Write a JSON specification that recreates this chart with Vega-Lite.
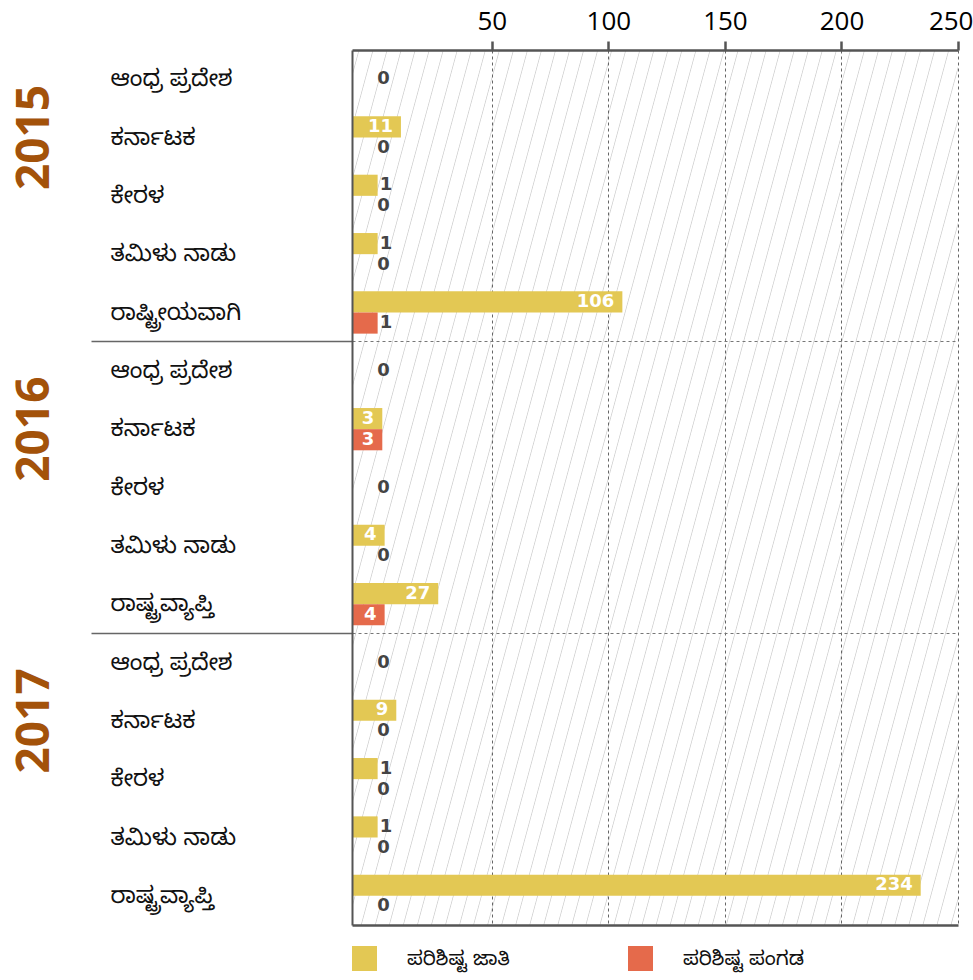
{
  "$schema": "https://vega.github.io/schema/vega-lite/v6.json",
  "width": 606,
  "height": 875,
  "autosize": "none",
  "padding": {"left": 352, "top": 50, "right": 15, "bottom": 55},
  "background": "white",
  "view": {
    "stroke": null,
    "fill": {
      "gradient": "linear", "x1": 0, "y1": 0, "x2": 1.2065, "y2": 0.4709,
      "stops": [
        {"offset": 0, "color": "#ffffff"},
        {"offset": 0.00733, "color": "#ffffff"}, {"offset": 0.00833, "color": "#d4d4d4"}, {"offset": 0.00933, "color": "#ffffff"},
        {"offset": 0.024, "color": "#ffffff"}, {"offset": 0.025, "color": "#d4d4d4"}, {"offset": 0.026, "color": "#ffffff"},
        {"offset": 0.04067, "color": "#ffffff"}, {"offset": 0.04167, "color": "#d4d4d4"}, {"offset": 0.04267, "color": "#ffffff"},
        {"offset": 0.05733, "color": "#ffffff"}, {"offset": 0.05833, "color": "#d4d4d4"}, {"offset": 0.05933, "color": "#ffffff"},
        {"offset": 0.074, "color": "#ffffff"}, {"offset": 0.075, "color": "#d4d4d4"}, {"offset": 0.076, "color": "#ffffff"},
        {"offset": 0.09067, "color": "#ffffff"}, {"offset": 0.09167, "color": "#d4d4d4"}, {"offset": 0.09267, "color": "#ffffff"},
        {"offset": 0.10733, "color": "#ffffff"}, {"offset": 0.10833, "color": "#d4d4d4"}, {"offset": 0.10933, "color": "#ffffff"},
        {"offset": 0.124, "color": "#ffffff"}, {"offset": 0.125, "color": "#d4d4d4"}, {"offset": 0.126, "color": "#ffffff"},
        {"offset": 0.14067, "color": "#ffffff"}, {"offset": 0.14167, "color": "#d4d4d4"}, {"offset": 0.14267, "color": "#ffffff"},
        {"offset": 0.15733, "color": "#ffffff"}, {"offset": 0.15833, "color": "#d4d4d4"}, {"offset": 0.15933, "color": "#ffffff"},
        {"offset": 0.174, "color": "#ffffff"}, {"offset": 0.175, "color": "#d4d4d4"}, {"offset": 0.176, "color": "#ffffff"},
        {"offset": 0.19067, "color": "#ffffff"}, {"offset": 0.19167, "color": "#d4d4d4"}, {"offset": 0.19267, "color": "#ffffff"},
        {"offset": 0.20733, "color": "#ffffff"}, {"offset": 0.20833, "color": "#d4d4d4"}, {"offset": 0.20933, "color": "#ffffff"},
        {"offset": 0.224, "color": "#ffffff"}, {"offset": 0.225, "color": "#d4d4d4"}, {"offset": 0.226, "color": "#ffffff"},
        {"offset": 0.24067, "color": "#ffffff"}, {"offset": 0.24167, "color": "#d4d4d4"}, {"offset": 0.24267, "color": "#ffffff"},
        {"offset": 0.25733, "color": "#ffffff"}, {"offset": 0.25833, "color": "#d4d4d4"}, {"offset": 0.25933, "color": "#ffffff"},
        {"offset": 0.274, "color": "#ffffff"}, {"offset": 0.275, "color": "#d4d4d4"}, {"offset": 0.276, "color": "#ffffff"},
        {"offset": 0.29067, "color": "#ffffff"}, {"offset": 0.29167, "color": "#d4d4d4"}, {"offset": 0.29267, "color": "#ffffff"},
        {"offset": 0.30733, "color": "#ffffff"}, {"offset": 0.30833, "color": "#d4d4d4"}, {"offset": 0.30933, "color": "#ffffff"},
        {"offset": 0.324, "color": "#ffffff"}, {"offset": 0.325, "color": "#d4d4d4"}, {"offset": 0.326, "color": "#ffffff"},
        {"offset": 0.34067, "color": "#ffffff"}, {"offset": 0.34167, "color": "#d4d4d4"}, {"offset": 0.34267, "color": "#ffffff"},
        {"offset": 0.35733, "color": "#ffffff"}, {"offset": 0.35833, "color": "#d4d4d4"}, {"offset": 0.35933, "color": "#ffffff"},
        {"offset": 0.374, "color": "#ffffff"}, {"offset": 0.375, "color": "#d4d4d4"}, {"offset": 0.376, "color": "#ffffff"},
        {"offset": 0.39067, "color": "#ffffff"}, {"offset": 0.39167, "color": "#d4d4d4"}, {"offset": 0.39267, "color": "#ffffff"},
        {"offset": 0.40733, "color": "#ffffff"}, {"offset": 0.40833, "color": "#d4d4d4"}, {"offset": 0.40933, "color": "#ffffff"},
        {"offset": 0.424, "color": "#ffffff"}, {"offset": 0.425, "color": "#d4d4d4"}, {"offset": 0.426, "color": "#ffffff"},
        {"offset": 0.44067, "color": "#ffffff"}, {"offset": 0.44167, "color": "#d4d4d4"}, {"offset": 0.44267, "color": "#ffffff"},
        {"offset": 0.45733, "color": "#ffffff"}, {"offset": 0.45833, "color": "#d4d4d4"}, {"offset": 0.45933, "color": "#ffffff"},
        {"offset": 0.474, "color": "#ffffff"}, {"offset": 0.475, "color": "#d4d4d4"}, {"offset": 0.476, "color": "#ffffff"},
        {"offset": 0.49067, "color": "#ffffff"}, {"offset": 0.49167, "color": "#d4d4d4"}, {"offset": 0.49267, "color": "#ffffff"},
        {"offset": 0.50733, "color": "#ffffff"}, {"offset": 0.50833, "color": "#d4d4d4"}, {"offset": 0.50933, "color": "#ffffff"},
        {"offset": 0.524, "color": "#ffffff"}, {"offset": 0.525, "color": "#d4d4d4"}, {"offset": 0.526, "color": "#ffffff"},
        {"offset": 0.54067, "color": "#ffffff"}, {"offset": 0.54167, "color": "#d4d4d4"}, {"offset": 0.54267, "color": "#ffffff"},
        {"offset": 0.55733, "color": "#ffffff"}, {"offset": 0.55833, "color": "#d4d4d4"}, {"offset": 0.55933, "color": "#ffffff"},
        {"offset": 0.574, "color": "#ffffff"}, {"offset": 0.575, "color": "#d4d4d4"}, {"offset": 0.576, "color": "#ffffff"},
        {"offset": 0.59067, "color": "#ffffff"}, {"offset": 0.59167, "color": "#d4d4d4"}, {"offset": 0.59267, "color": "#ffffff"},
        {"offset": 0.60733, "color": "#ffffff"}, {"offset": 0.60833, "color": "#d4d4d4"}, {"offset": 0.60933, "color": "#ffffff"},
        {"offset": 0.624, "color": "#ffffff"}, {"offset": 0.625, "color": "#d4d4d4"}, {"offset": 0.626, "color": "#ffffff"},
        {"offset": 0.64067, "color": "#ffffff"}, {"offset": 0.64167, "color": "#d4d4d4"}, {"offset": 0.64267, "color": "#ffffff"},
        {"offset": 0.65733, "color": "#ffffff"}, {"offset": 0.65833, "color": "#d4d4d4"}, {"offset": 0.65933, "color": "#ffffff"},
        {"offset": 0.674, "color": "#ffffff"}, {"offset": 0.675, "color": "#d4d4d4"}, {"offset": 0.676, "color": "#ffffff"},
        {"offset": 0.69067, "color": "#ffffff"}, {"offset": 0.69167, "color": "#d4d4d4"}, {"offset": 0.69267, "color": "#ffffff"},
        {"offset": 0.70733, "color": "#ffffff"}, {"offset": 0.70833, "color": "#d4d4d4"}, {"offset": 0.70933, "color": "#ffffff"},
        {"offset": 0.724, "color": "#ffffff"}, {"offset": 0.725, "color": "#d4d4d4"}, {"offset": 0.726, "color": "#ffffff"},
        {"offset": 0.74067, "color": "#ffffff"}, {"offset": 0.74167, "color": "#d4d4d4"}, {"offset": 0.74267, "color": "#ffffff"},
        {"offset": 0.75733, "color": "#ffffff"}, {"offset": 0.75833, "color": "#d4d4d4"}, {"offset": 0.75933, "color": "#ffffff"},
        {"offset": 0.774, "color": "#ffffff"}, {"offset": 0.775, "color": "#d4d4d4"}, {"offset": 0.776, "color": "#ffffff"},
        {"offset": 0.79067, "color": "#ffffff"}, {"offset": 0.79167, "color": "#d4d4d4"}, {"offset": 0.79267, "color": "#ffffff"},
        {"offset": 0.80733, "color": "#ffffff"}, {"offset": 0.80833, "color": "#d4d4d4"}, {"offset": 0.80933, "color": "#ffffff"},
        {"offset": 0.824, "color": "#ffffff"}, {"offset": 0.825, "color": "#d4d4d4"}, {"offset": 0.826, "color": "#ffffff"},
        {"offset": 0.84067, "color": "#ffffff"}, {"offset": 0.84167, "color": "#d4d4d4"}, {"offset": 0.84267, "color": "#ffffff"},
        {"offset": 0.85733, "color": "#ffffff"}, {"offset": 0.85833, "color": "#d4d4d4"}, {"offset": 0.85933, "color": "#ffffff"},
        {"offset": 0.874, "color": "#ffffff"}, {"offset": 0.875, "color": "#d4d4d4"}, {"offset": 0.876, "color": "#ffffff"},
        {"offset": 0.89067, "color": "#ffffff"}, {"offset": 0.89167, "color": "#d4d4d4"}, {"offset": 0.89267, "color": "#ffffff"},
        {"offset": 0.90733, "color": "#ffffff"}, {"offset": 0.90833, "color": "#d4d4d4"}, {"offset": 0.90933, "color": "#ffffff"},
        {"offset": 0.924, "color": "#ffffff"}, {"offset": 0.925, "color": "#d4d4d4"}, {"offset": 0.926, "color": "#ffffff"},
        {"offset": 0.94067, "color": "#ffffff"}, {"offset": 0.94167, "color": "#d4d4d4"}, {"offset": 0.94267, "color": "#ffffff"},
        {"offset": 0.95733, "color": "#ffffff"}, {"offset": 0.95833, "color": "#d4d4d4"}, {"offset": 0.95933, "color": "#ffffff"},
        {"offset": 0.974, "color": "#ffffff"}, {"offset": 0.975, "color": "#d4d4d4"}, {"offset": 0.976, "color": "#ffffff"},
        {"offset": 0.99067, "color": "#ffffff"}, {"offset": 0.99167, "color": "#d4d4d4"}, {"offset": 0.99267, "color": "#ffffff"},
        {"offset": 1, "color": "#ffffff"}
      ]
    }
  },
  "data": {
    "values": [
      {"key": "2015|ಆಂಧ್ರ ಪ್ರದೇಶ", "series": "ಪರಿಶಿಷ್ಟ ಜಾತಿ", "value": 0},
      {"key": "2015|ಆಂಧ್ರ ಪ್ರದೇಶ", "series": "ಪರಿಶಿಷ್ಟ ಪಂಗಡ", "value": 0},
      {"key": "2015|ಕರ್ನಾಟಕ", "series": "ಪರಿಶಿಷ್ಟ ಜಾತಿ", "value": 11},
      {"key": "2015|ಕರ್ನಾಟಕ", "series": "ಪರಿಶಿಷ್ಟ ಪಂಗಡ", "value": 0},
      {"key": "2015|ಕೇರಳ", "series": "ಪರಿಶಿಷ್ಟ ಜಾತಿ", "value": 1},
      {"key": "2015|ಕೇರಳ", "series": "ಪರಿಶಿಷ್ಟ ಪಂಗಡ", "value": 0},
      {"key": "2015|ತಮಿಳು ನಾಡು", "series": "ಪರಿಶಿಷ್ಟ ಜಾತಿ", "value": 1},
      {"key": "2015|ತಮಿಳು ನಾಡು", "series": "ಪರಿಶಿಷ್ಟ ಪಂಗಡ", "value": 0},
      {"key": "2015|ರಾಷ್ಟ್ರೀಯವಾಗಿ", "series": "ಪರಿಶಿಷ್ಟ ಜಾತಿ", "value": 106},
      {"key": "2015|ರಾಷ್ಟ್ರೀಯವಾಗಿ", "series": "ಪರಿಶಿಷ್ಟ ಪಂಗಡ", "value": 1},
      {"key": "2016|ಆಂಧ್ರ ಪ್ರದೇಶ", "series": "ಪರಿಶಿಷ್ಟ ಜಾತಿ", "value": 0},
      {"key": "2016|ಆಂಧ್ರ ಪ್ರದೇಶ", "series": "ಪರಿಶಿಷ್ಟ ಪಂಗಡ", "value": 0},
      {"key": "2016|ಕರ್ನಾಟಕ", "series": "ಪರಿಶಿಷ್ಟ ಜಾತಿ", "value": 3},
      {"key": "2016|ಕರ್ನಾಟಕ", "series": "ಪರಿಶಿಷ್ಟ ಪಂಗಡ", "value": 3},
      {"key": "2016|ಕೇರಳ", "series": "ಪರಿಶಿಷ್ಟ ಜಾತಿ", "value": 0},
      {"key": "2016|ಕೇರಳ", "series": "ಪರಿಶಿಷ್ಟ ಪಂಗಡ", "value": 0},
      {"key": "2016|ತಮಿಳು ನಾಡು", "series": "ಪರಿಶಿಷ್ಟ ಜಾತಿ", "value": 4},
      {"key": "2016|ತಮಿಳು ನಾಡು", "series": "ಪರಿಶಿಷ್ಟ ಪಂಗಡ", "value": 0},
      {"key": "2016|ರಾಷ್ಟ್ರವ್ಯಾಪ್ತಿ", "series": "ಪರಿಶಿಷ್ಟ ಜಾತಿ", "value": 27},
      {"key": "2016|ರಾಷ್ಟ್ರವ್ಯಾಪ್ತಿ", "series": "ಪರಿಶಿಷ್ಟ ಪಂಗಡ", "value": 4},
      {"key": "2017|ಆಂಧ್ರ ಪ್ರದೇಶ", "series": "ಪರಿಶಿಷ್ಟ ಜಾತಿ", "value": 0},
      {"key": "2017|ಆಂಧ್ರ ಪ್ರದೇಶ", "series": "ಪರಿಶಿಷ್ಟ ಪಂಗಡ", "value": 0},
      {"key": "2017|ಕರ್ನಾಟಕ", "series": "ಪರಿಶಿಷ್ಟ ಜಾತಿ", "value": 9},
      {"key": "2017|ಕರ್ನಾಟಕ", "series": "ಪರಿಶಿಷ್ಟ ಪಂಗಡ", "value": 0},
      {"key": "2017|ಕೇರಳ", "series": "ಪರಿಶಿಷ್ಟ ಜಾತಿ", "value": 1},
      {"key": "2017|ಕೇರಳ", "series": "ಪರಿಶಿಷ್ಟ ಪಂಗಡ", "value": 0},
      {"key": "2017|ತಮಿಳು ನಾಡು", "series": "ಪರಿಶಿಷ್ಟ ಜಾತಿ", "value": 1},
      {"key": "2017|ತಮಿಳು ನಾಡು", "series": "ಪರಿಶಿಷ್ಟ ಪಂಗಡ", "value": 0},
      {"key": "2017|ರಾಷ್ಟ್ರವ್ಯಾಪ್ತಿ", "series": "ಪರಿಶಿಷ್ಟ ಜಾತಿ", "value": 234},
      {"key": "2017|ರಾಷ್ಟ್ರವ್ಯಾಪ್ತಿ", "series": "ಪರಿಶಿಷ್ಟ ಪಂಗಡ", "value": 0}
    ]
  },
  "transform": [
    {"joinaggregate": [{"op": "sum", "field": "value", "as": "total"}], "groupby": ["key"]}
  ],
  "layer": [
    {
      "transform": [{"filter": "datum.value > 0"}],
      "mark": {"type": "bar"},
      "encoding": {
        "y": {
          "field": "key", "type": "nominal",
          "scale": {
            "domain": ["2015|ಆಂಧ್ರ ಪ್ರದೇಶ", "2015|ಕರ್ನಾಟಕ", "2015|ಕೇರಳ", "2015|ತಮಿಳು ನಾಡು", "2015|ರಾಷ್ಟ್ರೀಯವಾಗಿ",
                       "2016|ಆಂಧ್ರ ಪ್ರದೇಶ", "2016|ಕರ್ನಾಟಕ", "2016|ಕೇರಳ", "2016|ತಮಿಳು ನಾಡು", "2016|ರಾಷ್ಟ್ರವ್ಯಾಪ್ತಿ",
                       "2017|ಆಂಧ್ರ ಪ್ರದೇಶ", "2017|ಕರ್ನಾಟಕ", "2017|ಕೇರಳ", "2017|ತಮಿಳು ನಾಡು", "2017|ರಾಷ್ಟ್ರವ್ಯಾಪ್ತಿ"],
            "paddingInner": 0, "paddingOuter": 0
          },
          "axis": {
            "orient": "left", "title": null, "ticks": false, "grid": false,
            "domain": true, "domainColor": "#555555", "domainWidth": 2,
            "labelExpr": "split(datum.value, '|')[1]",
            "labelAlign": "left", "labelBaseline": "middle", "labelPadding": 242,
            "labelFontSize": 23, "labelColor": "#111111",
            "labelFont": "Noto Sans Kannada, Noto Sans, sans-serif", "labelLimit": 240, "zindex": 1
          }
        },
        "yOffset": {
          "field": "series", "type": "nominal",
          "scale": {"domain": ["ಪರಿಶಿಷ್ಟ ಜಾತಿ", "ಪರಿಶಿಷ್ಟ ಪಂಗಡ"], "paddingInner": 0, "paddingOuter": 0.38}
        },
        "x": {
          "field": "value", "type": "quantitative",
          "scale": {"domain": [-10, 250], "nice": false, "zero": false},
          "axis": {
            "orient": "top", "title": null, "values": [50, 100, 150, 200, 250],
            "domain": true, "domainColor": "#555555", "domainWidth": 2.5,
            "ticks": true, "tickSize": 9, "tickWidth": 2.5, "tickColor": "#555555",
            "labelFontSize": 26, "labelColor": "#000000", "labelPadding": 7, "labelFont": "Open Sans",
            "labelFlush": true, "labelFlushOffset": 15,
            "grid": true, "gridColor": "#666666", "gridDash": [3, 3], "gridWidth": 1
          }
        },
        "x2": {"datum": -10},
        "color": {
          "field": "series", "type": "nominal",
          "scale": {"domain": ["ಪರಿಶಿಷ್ಟ ಜಾತಿ", "ಪರಿಶಿಷ್ಟ ಪಂಗಡ"], "range": ["#E3C854", "#E56A4B"]},
          "legend": {
            "orient": "bottom", "direction": "horizontal", "title": null,
            "symbolType": "square", "symbolSize": 625, "symbolStrokeWidth": 0, "symbolOpacity": 1,
            "labelFontSize": 20, "labelFont": "Noto Sans Kannada, Noto Sans, sans-serif", "labelColor": "#111111",
            "labelOffset": 30, "columnPadding": 118, "offset": 21, "padding": 0
          }
        }
      }
    },
    {
      "transform": [{"filter": "datum.value >= 3"}],
      "mark": {"type": "text", "align": "right", "baseline": "middle", "dx": -8, "color": "#ffffff", "font": "DejaVu Sans", "fontWeight": "bold", "fontSize": 18},
      "encoding": {
        "y": {
          "field": "key", "type": "nominal",
          "axis": {
            "orient": "left", "title": null,
            "values": ["2015|ಕರ್ನಾಟಕ", "2016|ಕರ್ನಾಟಕ", "2017|ಕರ್ನಾಟಕ"],
            "labelExpr": "split(datum.value, '|')[0]",
            "labelAngle": -90, "labelAlign": "center", "labelBaseline": "middle", "labelPadding": 318,
            "ticks": false, "domain": false, "grid": false,
            "labelFontSize": 46, "labelFontWeight": "bold", "labelColor": "#A3520A", "labelFont": "Open Sans"
          }
        },
        "yOffset": {"field": "series", "type": "nominal"},
        "x": {
          "field": "value", "type": "quantitative",
          "axis": {"orient": "bottom", "title": null, "labels": false, "ticks": false, "grid": false, "domain": true, "domainColor": "#555555", "domainWidth": 2.5, "zindex": 1}
        },
        "text": {"field": "value", "type": "quantitative"}
      }
    },
    {
      "transform": [{"filter": "datum.total > 0 && datum.value < 3"}],
      "mark": {"type": "text", "align": "left", "baseline": "middle", "dx": 2, "color": "#444444", "font": "DejaVu Sans", "fontWeight": "bold", "fontSize": 18},
      "encoding": {
        "y": {
          "field": "key", "type": "nominal",
          "axis": {
            "orient": "left", "title": null,
            "values": ["2016|ಆಂಧ್ರ ಪ್ರದೇಶ", "2017|ಆಂಧ್ರ ಪ್ರದೇಶ"],
            "bandPosition": 0, "labels": false, "domain": false,
            "ticks": true, "tickSize": 261, "tickColor": "#666666", "tickWidth": 1.5,
            "grid": true, "gridColor": "#777777", "gridDash": [3, 3], "gridWidth": 1
          }
        },
        "yOffset": {"field": "series", "type": "nominal"},
        "x": {"field": "value", "type": "quantitative", "axis": null},
        "text": {"field": "value", "type": "quantitative"}
      }
    },
    {
      "transform": [{"filter": "datum.total == 0 && datum.series == 'ಪರಿಶಿಷ್ಟ ಜಾತಿ'"}],
      "mark": {"type": "text", "align": "left", "baseline": "middle", "dx": 2, "color": "#444444", "font": "DejaVu Sans", "fontWeight": "bold", "fontSize": 18},
      "encoding": {
        "y": {"field": "key", "type": "nominal", "axis": null},
        "x": {"field": "value", "type": "quantitative", "axis": null},
        "text": {"field": "value", "type": "quantitative"}
      }
    }
  ],
  "resolve": {"axis": {"x": "independent", "y": "independent"}}
}
